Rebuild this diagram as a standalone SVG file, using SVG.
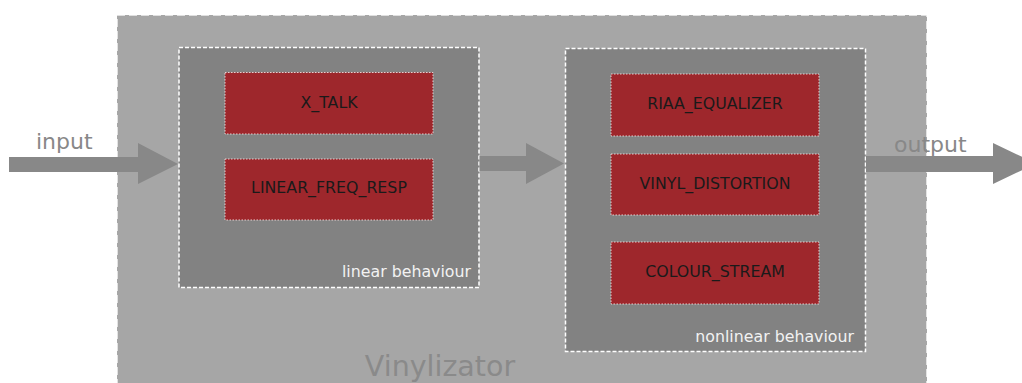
<svg xmlns="http://www.w3.org/2000/svg" width="1022" height="383" viewBox="0 0 1022 383">
<style>
text{font-family:"DejaVu Sans","Liberation Sans",sans-serif}
.outer{fill:#a6a6a6;stroke:#ffffff;stroke-opacity:0.85;stroke-width:1.6;stroke-dasharray:8 4}
.group{fill:#828282;stroke:#ffffff;stroke-width:1.5;stroke-dasharray:4 2}
.block{fill:#9e272c;stroke:#e8d0d0;stroke-width:1;stroke-dasharray:1.5 1.5}
.blabel{font-size:15.8px;fill:#1a1a1a;text-anchor:middle}
.glabel{font-size:15.8px;fill:#f2f2f2;text-anchor:end}
.io{font-size:22px;fill:#888888}
.arrow{fill:#888888}
</style>
<g id="vinylizator">
<rect class="outer" x="117" y="15" width="810" height="390"/>
<text x="440" y="376" font-size="28.5" fill="#8a8a8a" text-anchor="middle">Vinylizator</text>
</g>
<g id="linear">
<rect class="group" x="179" y="47.5" width="300" height="240"/>
<text class="glabel" x="471" y="277">linear behaviour</text>
</g>
<g id="nonlinear">
<rect class="group" x="565.5" y="48.5" width="300" height="303"/>
<text class="glabel" x="854" y="342">nonlinear behaviour</text>
</g>
<g id="x_talk">
<rect class="block" x="225" y="72.5" width="208" height="61.5"/>
<text class="blabel" x="329" y="108">X_TALK</text>
</g>
<g id="linear_freq_resp">
<rect class="block" x="225" y="159" width="208" height="61"/>
<text class="blabel" x="329" y="193">LINEAR_FREQ_RESP</text>
</g>
<g id="riaa_equalizer">
<rect class="block" x="611" y="74" width="208" height="62"/>
<text class="blabel" x="715" y="109">RIAA_EQUALIZER</text>
</g>
<g id="vinyl_distortion">
<rect class="block" x="611" y="154" width="208" height="61"/>
<text class="blabel" x="715" y="189">VINYL_DISTORTION</text>
</g>
<g id="colour_stream">
<rect class="block" x="611" y="242" width="208" height="62"/>
<text class="blabel" x="715" y="277">COLOUR_STREAM</text>
</g>
<g id="connectors">
<polygon class="arrow" points="9,157 138,157 138,143 178,164 138,184 138,172 9,172"/>
<polygon class="arrow" points="479.5,156 526,156 526,143 564,163.5 526,184 526,171 479.5,171"/>
<polygon class="arrow" points="866,156 993,156 993,143 1036,163.5 993,184 993,172 866,172"/>
<text class="io" x="36" y="149">input</text>
<text class="io" x="894" y="152">output</text>
</g>
</svg>
